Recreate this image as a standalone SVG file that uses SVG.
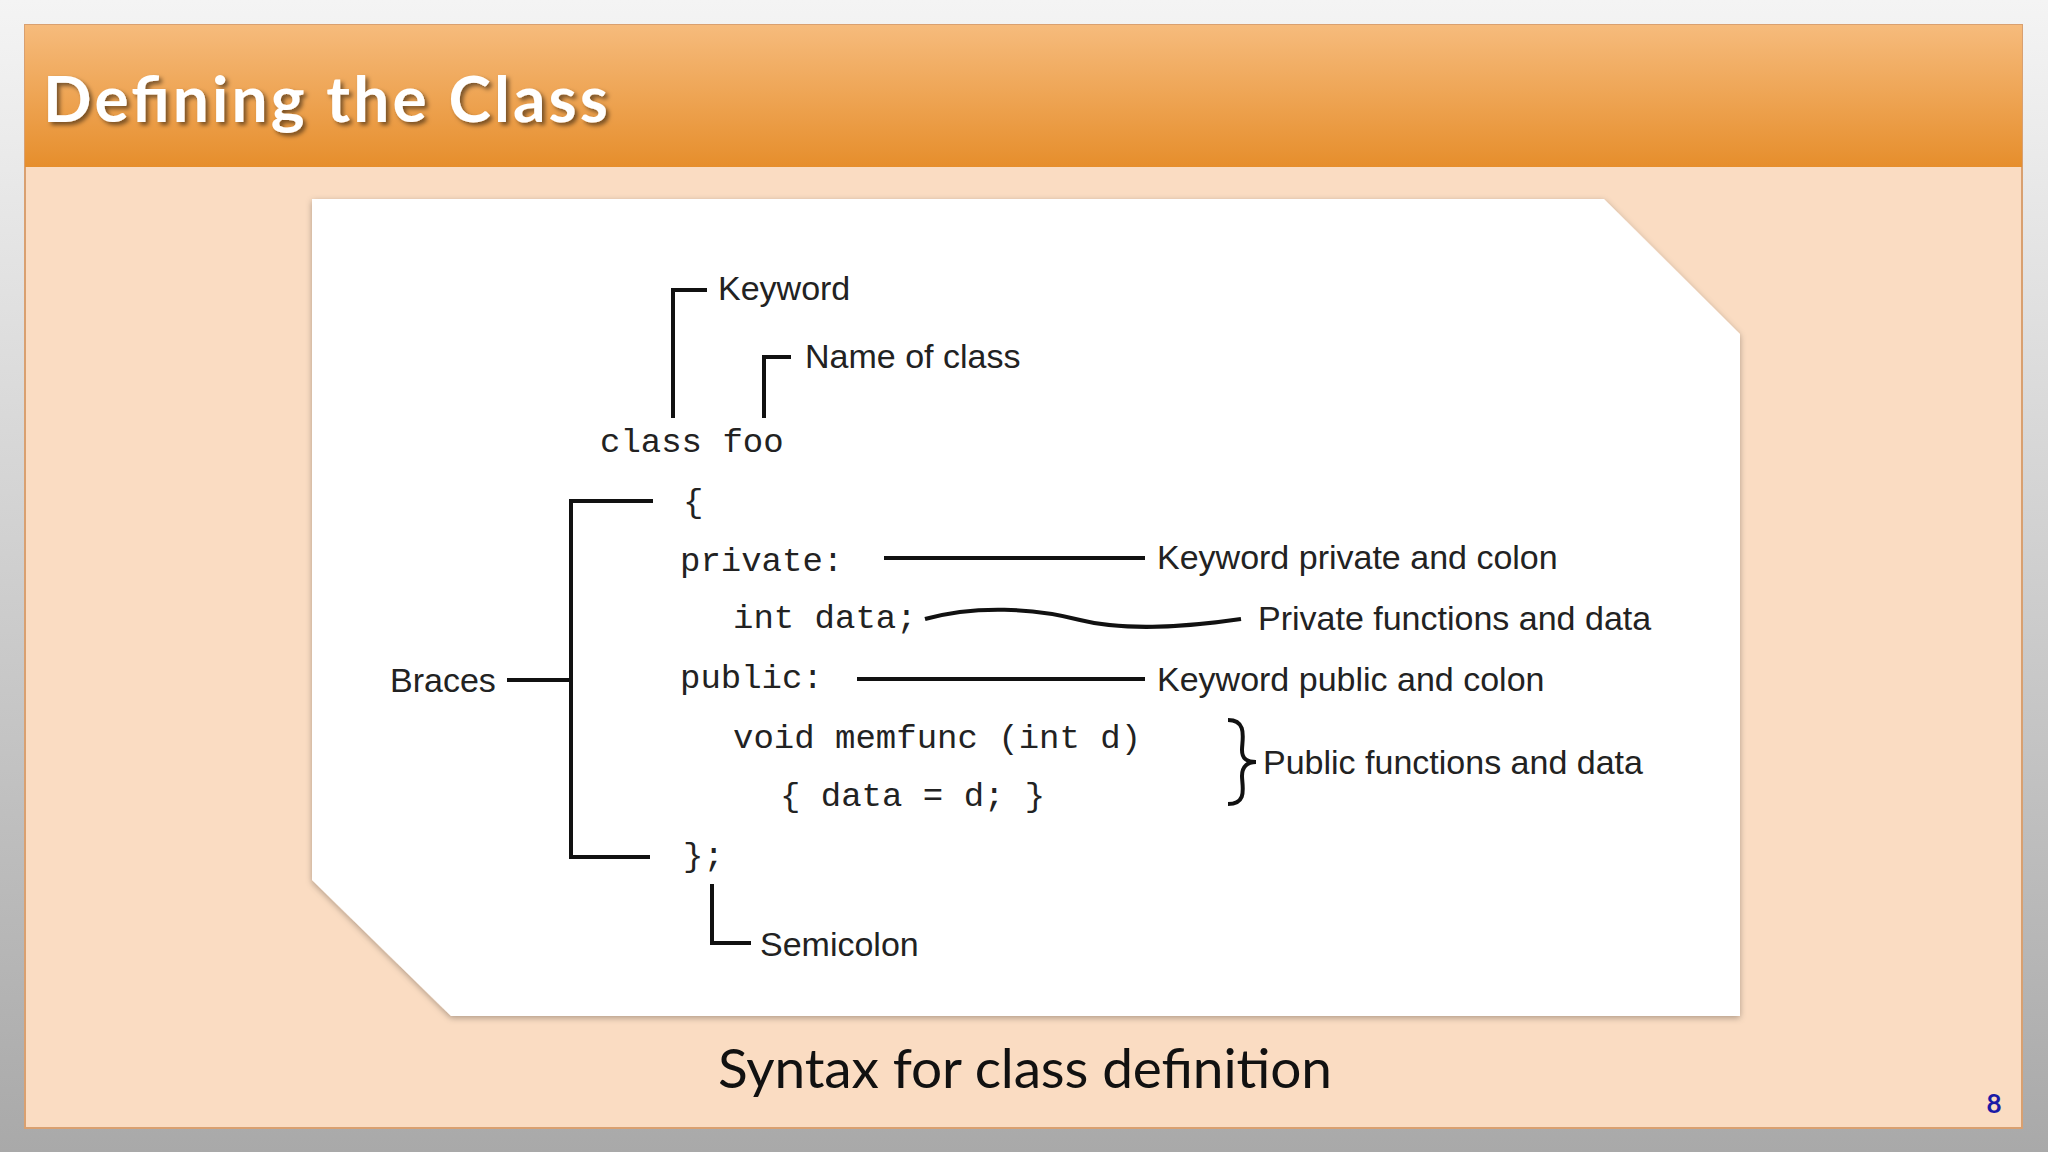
<svg xmlns="http://www.w3.org/2000/svg" width="2048" height="1152" viewBox="0 0 2048 1152">
<defs>
<linearGradient id="bg" x1="0" y1="0" x2="0" y2="1"><stop offset="0" stop-color="#f4f4f4"/><stop offset="1" stop-color="#a9a9a9"/></linearGradient>
<linearGradient id="hd" x1="0" y1="0" x2="0" y2="1"><stop offset="0" stop-color="#f6bb7c"/><stop offset="1" stop-color="#e68e2c"/></linearGradient>
<filter id="sh" x="-10%" y="-10%" width="120%" height="130%"><feDropShadow dx="3" dy="3" stdDeviation="2" flood-color="#000" flood-opacity="0.5"/></filter>
<filter id="ps" x="-5%" y="-5%" width="110%" height="110%"><feDropShadow dx="0" dy="2" stdDeviation="3" flood-color="#000" flood-opacity="0.3"/></filter>
</defs>
<style>
.ln{stroke:#111;stroke-width:4;fill:none}
.lb{font-family:"Liberation Sans",Arial,sans-serif;font-size:34px;fill:#222}
.cd{font-family:"Liberation Mono","DejaVu Sans Mono",monospace;font-size:34px;fill:#222}
</style>
<rect width="2048" height="1152" fill="url(#bg)"/>
<rect x="25" y="25" width="1997" height="1103" fill="#fadcc2" stroke="#d9a070" stroke-width="2"/>
<rect x="25" y="25" width="1997" height="142" fill="url(#hd)"/>
<text x="43" y="122" font-family="Lato,'Open Sans',sans-serif" font-weight="bold" font-size="64" fill="#fff" filter="url(#sh)" textLength="565">Defining the Class</text>
<polygon points="312,199 1604,199 1740,334 1740,1016 451,1016 312,880" fill="#fff" filter="url(#ps)"/>
<g id="connectors">
<path class="ln" d="M673,418 V290 H707"/>
<path class="ln" d="M764,418 V357 H791"/>
<path class="ln" d="M653,501 H571 V857 H650 M571,680 H507"/>
<path class="ln" d="M884,558 H1145"/>
<path class="ln" d="M925,619 C975,605 1035,608 1080,620 C1120,630 1180,628 1241,619"/>
<path class="ln" d="M857,679 H1145"/>
<path class="ln" d="M1228,720 C1248,720 1242,740 1242,750 C1242,760 1248,762 1256,762 C1248,762 1242,766 1242,776 C1242,786 1248,804 1228,804"/>
<path class="ln" d="M712,884 V943 H751"/>
</g>
<g id="code">
<text class="cd" x="600" y="452">class foo</text>
<text class="cd" x="683" y="512">{</text>
<text class="cd" x="680" y="571">private:</text>
<text class="cd" x="733" y="628">int data;</text>
<text class="cd" x="680" y="688">public:</text>
<text class="cd" x="733" y="748">void memfunc (int d)</text>
<text class="cd" x="780" y="806">{ data = d; }</text>
<text class="cd" x="683" y="866">};</text>
</g>
<g id="labels">
<text class="lb" x="718" y="300">Keyword</text>
<text class="lb" x="805" y="368">Name of class</text>
<text class="lb" x="390" y="692">Braces</text>
<text class="lb" x="1157" y="569">Keyword private and colon</text>
<text class="lb" x="1258" y="630">Private functions and data</text>
<text class="lb" x="1157" y="691">Keyword public and colon</text>
<text class="lb" x="1263" y="774">Public functions and data</text>
<text class="lb" x="760" y="956">Semicolon</text>
</g>
<text x="1025" y="1088" text-anchor="middle" font-family="Lato,'Open Sans',sans-serif" font-size="55" fill="#111" textLength="614">Syntax for class definition</text>
<text x="1994" y="1113" text-anchor="middle" font-family="Lato,sans-serif" font-weight="bold" font-size="26" fill="#1a1aa6">8</text>
</svg>
